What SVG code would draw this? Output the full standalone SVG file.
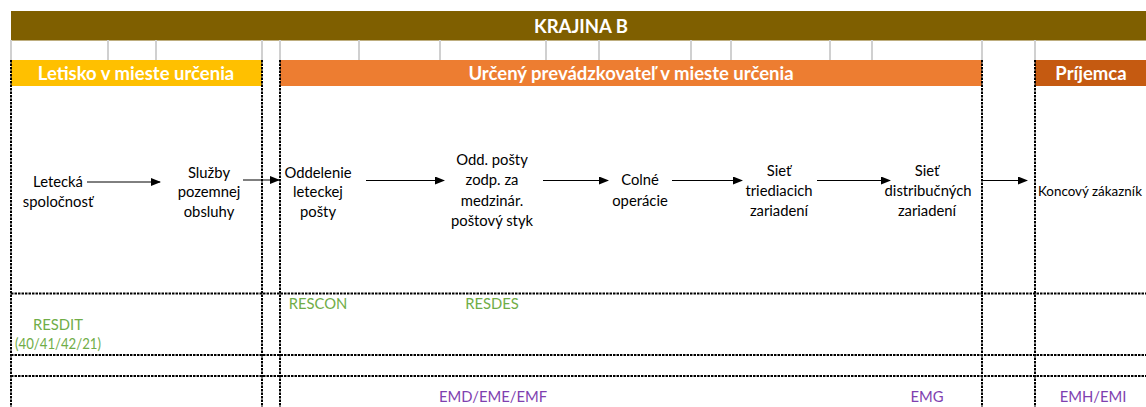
<svg xmlns="http://www.w3.org/2000/svg" width="1146" height="407" viewBox="0 0 1146 407">
<defs>
<style>
.t{font-family:Lato,"Liberation Sans",sans-serif;font-size:14.8px;fill:#000;text-anchor:middle}
.h{font-family:Lato,"Liberation Sans",sans-serif;font-size:18.5px;font-weight:bold;fill:#fff;text-anchor:middle}
.g{font-family:Lato,"Liberation Sans",sans-serif;font-size:14.8px;fill:#70AD47;text-anchor:middle}
.p{font-family:Lato,"Liberation Sans",sans-serif;font-size:14.8px;fill:#7F3FB0;text-anchor:middle}
.tick{stroke:#D0D0D0;stroke-width:2}
.dash{stroke:#000;stroke-width:2;stroke-dasharray:2.5 1;fill:none}
.arr{stroke:#000;stroke-width:1;fill:none;marker-end:url(#ah)}
</style>
<marker id="ah" markerWidth="10" markerHeight="8" refX="9" refY="4" orient="auto" markerUnits="userSpaceOnUse">
<path d="M0,0 L10,4 L0,8 Z" fill="#000"/>
</marker>
</defs>
<rect width="1146" height="407" fill="#fff"/>
<g id="header">
<rect x="11" y="11" width="1135" height="29.5" fill="#7F5F00"/>
<text class="h" x="581" y="33">KRAJINA B</text>
<g>
<line class="tick" x1="11" y1="40" x2="11" y2="60"/>
<line class="tick" x1="108" y1="40" x2="108" y2="60"/>
<line class="tick" x1="156" y1="40" x2="156" y2="60"/>
<line class="tick" x1="262" y1="40" x2="262" y2="60"/>
<line class="tick" x1="280" y1="40" x2="280" y2="60"/>
<line class="tick" x1="359" y1="40" x2="359" y2="60"/>
<line class="tick" x1="440" y1="40" x2="440" y2="60"/>
<line class="tick" x1="546" y1="40" x2="546" y2="60"/>
<line class="tick" x1="599" y1="40" x2="599" y2="60"/>
<line class="tick" x1="691" y1="40" x2="691" y2="60"/>
<line class="tick" x1="731" y1="40" x2="731" y2="60"/>
<line class="tick" x1="830" y1="40" x2="830" y2="60"/>
<line class="tick" x1="872" y1="40" x2="872" y2="60"/>
<line class="tick" x1="982" y1="40" x2="982" y2="60"/>
<line class="tick" x1="1035" y1="40" x2="1035" y2="60"/>
</g>
</g>
<g id="lane-letisko">
<rect x="11" y="60" width="251" height="26" fill="#FFC000"/>
<text class="h" x="136" y="80">Letisko v mieste určenia</text>
</g>
<g id="lane-prevadzkovatel">
<rect x="280" y="60" width="702" height="26" fill="#ED7D31"/>
<text class="h" x="631" y="80">Určený prevádzkovateľ v mieste určenia</text>
</g>
<g id="lane-prijemca">
<rect x="1035" y="60" width="111" height="26" fill="#C55A11"/>
<text class="h" x="1091" y="80">Príjemca</text>
</g>
<g id="grid">
<line class="dash" x1="11" y1="60" x2="11" y2="407"/>
<line class="dash" x1="262" y1="60" x2="262" y2="407"/>
<line class="dash" x1="280" y1="60" x2="280" y2="407"/>
<line class="dash" x1="982" y1="60" x2="982" y2="407"/>
<line class="dash" x1="1035" y1="60" x2="1035" y2="407"/>
<line class="dash" x1="11" y1="293.5" x2="1146" y2="293.5"/>
<line class="dash" x1="11" y1="355" x2="1146" y2="355"/>
<line class="dash" x1="11" y1="376" x2="1146" y2="376"/>
</g>
<g id="n-letecka"><text class="t" x="58" y="187">Letecká</text><text class="t" x="58" y="207">spoločnosť</text></g>
<g id="n-sluzby"><text class="t" x="209" y="178">Služby</text><text class="t" x="209" y="197">pozemnej</text><text class="t" x="209" y="217">obsluhy</text></g>
<g id="n-oddelenie"><text class="t" x="318" y="178">Oddelenie</text><text class="t" x="318" y="197">leteckej</text><text class="t" x="318" y="217">pošty</text></g>
<g id="n-odd-posty"><text class="t" x="492" y="165">Odd. pošty</text><text class="t" x="492" y="185">zodp. za</text><text class="t" x="492" y="206">medzinár.</text><text class="t" x="492" y="226">poštový styk</text></g>
<g id="n-colne"><text class="t" x="640" y="185">Colné</text><text class="t" x="640" y="206">operácie</text></g>
<g id="n-triediacich"><text class="t" x="779" y="176">Sieť</text><text class="t" x="779" y="196">triediacich</text><text class="t" x="779" y="216">zariadení</text></g>
<g id="n-distribucnych"><text class="t" x="927" y="176">Sieť</text><text class="t" x="928" y="196">distribučných</text><text class="t" x="927" y="216">zariadení</text></g>
<g id="n-koncovy"><text class="t" x="1038" y="196" style="text-anchor:start;font-size:13.4px">Koncový zákazník</text></g>
<g id="connectors">
<line class="arr" x1="87" y1="182" x2="160" y2="182"/>
<line class="arr" x1="243" y1="180" x2="279" y2="180"/>
<line class="arr" x1="366" y1="180.5" x2="444" y2="180.5"/>
<line class="arr" x1="543" y1="180.5" x2="608" y2="180.5"/>
<line class="arr" x1="672" y1="180.5" x2="742" y2="180.5"/>
<line class="arr" x1="817" y1="180.5" x2="890" y2="180.5"/>
<line class="arr" x1="982" y1="180.5" x2="1027" y2="180.5"/>
</g>
<g id="messages">
<text class="g" x="318" y="309">RESCON</text>
<text class="g" x="492" y="309">RESDES</text>
<text class="g" x="58" y="330">RESDIT</text>
<text class="g" x="58" y="349" textLength="86" lengthAdjust="spacingAndGlyphs">(40/41/42/21)</text>
<text class="p" x="493" y="402">EMD/EME/EMF</text>
<text class="p" x="927" y="402">EMG</text>
<text class="p" x="1093" y="402">EMH/EMI</text>
</g>
</svg>
